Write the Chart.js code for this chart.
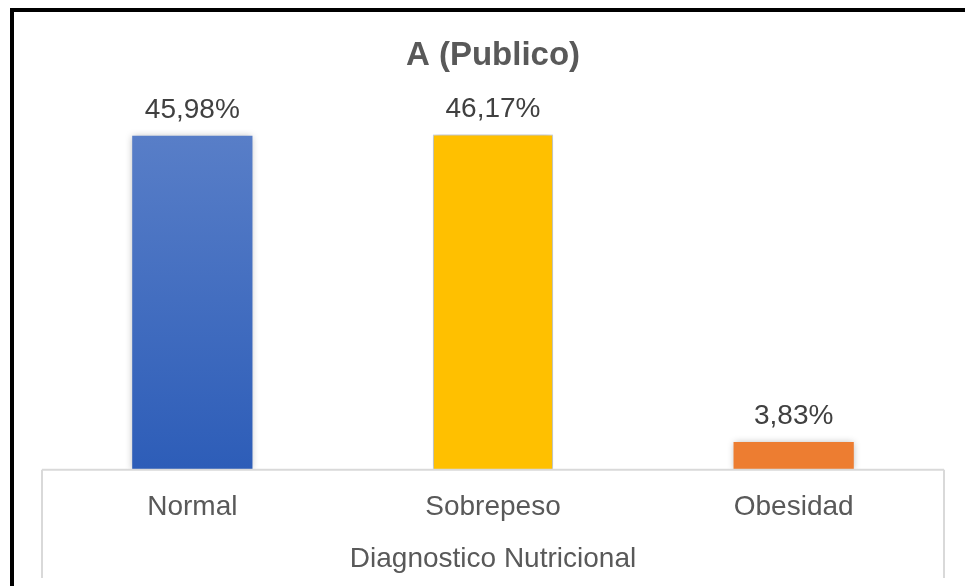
<!DOCTYPE html>
<html>
<head>
<meta charset="utf-8">
<script src="https://cdn.jsdelivr.net/npm/chart.js@4.4.1/dist/chart.umd.min.js"></script>
<style>
  html, body { margin: 0; padding: 0; background: #ffffff; }
  #wrap { position: relative; width: 965px; height: 586px; }
  canvas { display: block; }
</style>
</head>
<body>
<div id="wrap"><canvas id="c" width="965" height="586"></canvas></div>
<script>
const categories = ["Normal", "Sobrepeso", "Obesidad"];
const values = [45.98, 46.17, 3.83];
const valueLabels = ["45,98%", "46,17%", "3,83%"];
const chartTitle = "A (Publico)";
const axisTitle = "Diagnostico Nutricional";

const FONT = "'Liberation Sans', Arial, sans-serif";
const TEXT = "#595959";

const framePlugin = {
  id: 'frame',
  beforeDraw(chart) {
    const ctx = chart.ctx;
    ctx.save();
    ctx.fillStyle = '#ffffff';
    ctx.fillRect(0, 0, chart.width, chart.height);
    ctx.fillStyle = '#000000';
    ctx.fillRect(10, 8, chart.width - 10, 4);
    ctx.fillRect(10, 8, 4, chart.height - 8);
    ctx.restore();
  },
  afterDraw(chart) {
    const ctx = chart.ctx;
    const a = chart.chartArea;
    ctx.save();
    ctx.strokeStyle = '#d9d9d9';
    ctx.lineWidth = 2;
    ctx.beginPath();
    ctx.moveTo(a.left, a.bottom);
    ctx.lineTo(a.right, a.bottom);
    ctx.moveTo(a.left, a.bottom);
    ctx.lineTo(a.left, 578);
    ctx.moveTo(a.right, a.bottom);
    ctx.lineTo(a.right, 578);
    ctx.stroke();
    ctx.restore();
  }
};

const shadowPlugin = {
  id: 'barShadow',
  beforeDatasetsDraw(chart) {
    const ctx = chart.ctx;
    ctx.save();
    ctx.shadowColor = 'rgba(0,0,0,0.28)';
    ctx.shadowBlur = 7;
    ctx.shadowOffsetX = 0;
    ctx.shadowOffsetY = 0;
  },
  afterDatasetsDraw(chart) {
    chart.ctx.restore();
  }
};

const labelPlugin = {
  id: 'valueLabels',
  afterDatasetsDraw(chart) {
    const ctx = chart.ctx;
    const meta = chart.getDatasetMeta(0);
    ctx.save();
    ctx.font = "28px " + FONT;
    ctx.fillStyle = "#404040";
    ctx.textAlign = 'center';
    ctx.textBaseline = 'alphabetic';
    meta.data.forEach((bar, i) => {
      ctx.fillText(valueLabels[i], bar.x, bar.y - 17.5);
    });
    ctx.restore();
  }
};

function normalGradient(context) {
  const chart = context.chart;
  const a = chart.chartArea;
  if (!a) return '#4472C4';
  const bar = context.element;
  const top = bar && bar.y !== undefined ? bar.y : a.top;
  const g = chart.ctx.createLinearGradient(0, top, 0, a.bottom);
  g.addColorStop(0, '#5C81C9');
  g.addColorStop(1, '#2D5DB8');
  return g;
}

const colors = [normalGradient, '#FFC000', '#ED7D31'];

new Chart(document.getElementById('c'), {
  type: 'bar',
  data: {
    labels: categories,
    datasets: [{
      data: values,
      backgroundColor: (ctx) => {
        const c = colors[ctx.dataIndex];
        return typeof c === 'function' ? c(ctx) : c;
      },
      borderColor: ['rgba(0,0,0,0)', '#C9D7EE', 'rgba(0,0,0,0)'],
      borderWidth: [0, 1, 0],
      barPercentage: 0.4,
      categoryPercentage: 1.0
    }]
  },
  options: {
    responsive: false,
    animation: false,
    devicePixelRatio: 1,
    layout: { padding: { left: 42, right: 21, top: 0, bottom: 5 } },
    plugins: {
      legend: { display: false },
      tooltip: { enabled: false },
      title: {
        display: true,
        text: chartTitle,
        color: TEXT,
        font: { family: FONT, size: 33, weight: 'bold' },
        padding: { top: 36, bottom: 31 }
      }
    },
    scales: {
      y: {
        display: false,
        min: 0,
        max: 50
      },
      x: {
        grid: { display: false, drawTicks: false },
        border: { display: false },
        ticks: {
          color: TEXT,
          font: { family: FONT, size: 28 },
          padding: 21
        },
        title: {
          display: true,
          text: axisTitle,
          color: TEXT,
          font: { family: FONT, size: 28 },
          padding: { top: -3, bottom: 5 }
        }
      }
    }
  },
  plugins: [framePlugin, shadowPlugin, labelPlugin]
});
</script>
</body>
</html>
